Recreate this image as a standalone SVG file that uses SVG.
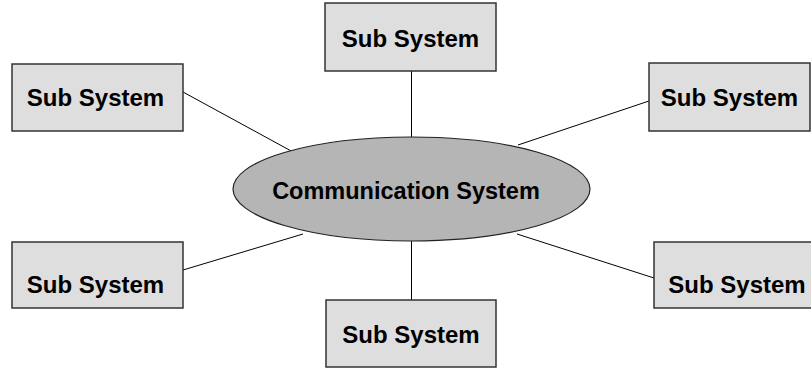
<svg xmlns="http://www.w3.org/2000/svg" width="811" height="369" viewBox="0 0 811 369">
<style>
.box{fill:#dedede;stroke:#333;stroke-width:1.5}
.ell{fill:#b5b5b5;stroke:#222;stroke-width:1.2}
.lbl{font-family:"Liberation Sans",Arial,sans-serif;font-weight:bold;font-size:24px;fill:#000;text-anchor:middle}
.con line{stroke:#000;stroke-width:1}
</style>
<rect width="811" height="369" fill="#fff"/>
<g id="connectors" class="con">
<line x1="411.5" y1="71" x2="411.5" y2="137"/>
<line x1="183" y1="92" x2="293" y2="152"/>
<line x1="518" y1="145" x2="649" y2="101"/>
<line x1="183" y1="270" x2="303" y2="234"/>
<line x1="517" y1="234" x2="654" y2="278"/>
<line x1="411.5" y1="241" x2="411.5" y2="300"/>
</g>
<g id="comm">
<ellipse class="ell" cx="411.5" cy="189" rx="178.5" ry="52"/>
<text class="lbl" x="406" y="199" style="font-size:23.5px">Communication System</text>
</g>
<g id="sub-top">
<rect class="box" x="325" y="3" width="171" height="68"/>
<text class="lbl" x="410.5" y="47">Sub System</text>
</g>
<g id="sub-top-left">
<rect class="box" x="12" y="64" width="171" height="67"/>
<text class="lbl" x="95.5" y="106">Sub System</text>
</g>
<g id="sub-top-right">
<rect class="box" x="649" y="63" width="161" height="68"/>
<text class="lbl" x="729.5" y="106">Sub System</text>
</g>
<g id="sub-bottom-left">
<rect class="box" x="12" y="242" width="171" height="66"/>
<text class="lbl" x="95.5" y="293">Sub System</text>
</g>
<g id="sub-bottom-right">
<rect class="box" x="654" y="242" width="171" height="66"/>
<text class="lbl" x="737" y="293">Sub System</text>
</g>
<g id="sub-bottom">
<rect class="box" x="326" y="300" width="170" height="67"/>
<text class="lbl" x="411" y="343">Sub System</text>
</g>
</svg>
